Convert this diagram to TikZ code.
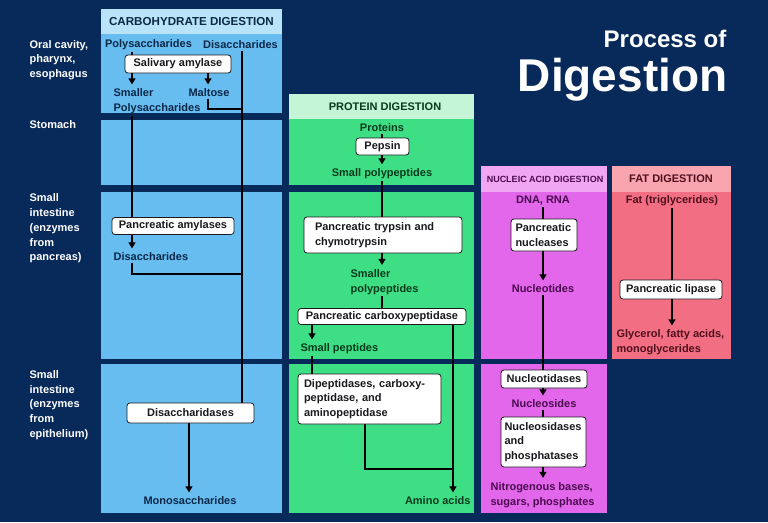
\documentclass[tikz,border=0pt]{standalone}
\usepackage{fontspec}
\setmainfont{Liberation Sans}
\usepackage{tikz}
\usetikzlibrary{arrows.meta}
\usetikzlibrary{positioning}

\definecolor{navy}{RGB}{8,42,90}
\definecolor{carbhead}{RGB}{185,228,248}
\definecolor{carbbody}{RGB}{104,189,240}
\definecolor{carbtext}{RGB}{12,40,72}
\definecolor{prothead}{RGB}{196,245,214}
\definecolor{protbody}{RGB}{62,222,133}
\definecolor{prottext}{RGB}{8,58,30}
\definecolor{nuchead}{RGB}{241,166,244}
\definecolor{nucbody}{RGB}{227,103,234}
\definecolor{nuctext}{RGB}{75,11,80}
\definecolor{fathead}{RGB}{249,165,176}
\definecolor{fatbody}{RGB}{242,111,131}
\definecolor{fattext}{RGB}{80,15,28}
\definecolor{inkdark}{RGB}{25,25,30}

\begin{document}
\begin{tikzpicture}[x=1pt, y=-1pt, line width=1.2pt, >={Triangle[width=7pt,length=6pt]}, font=\fontsize{11}{14.7}\selectfont\bfseries]
\tikzstyle{enzyme} = [draw=inkdark, fill=white, rounded corners=3pt, line width=0.8pt, text=inkdark, inner sep=0pt]
\tikzstyle{stage} = [inner sep=1pt]
\tikzstyle{rowlabel} = [text=white, align=left, anchor=west, inner sep=0pt]
\tikzstyle{flow} = [->, shorten >=3pt]

\fill[navy] (0,0) rectangle (768,522);
\useasboundingbox (0,0) rectangle (768,522);

% panels
\fill[carbhead] (101,9) rectangle (282,34);
\fill[carbbody] (101,34) rectangle (282,113);
\fill[carbbody] (101,120) rectangle (282,185);
\fill[carbbody] (101,192) rectangle (282,359);
\fill[carbbody] (101,364) rectangle (282,513);

\fill[prothead] (289,94) rectangle (474,119);
\fill[protbody] (289,119) rectangle (474,185);
\fill[protbody] (289,192) rectangle (474,359);
\fill[protbody] (289,364) rectangle (474,513);

\fill[nuchead] (481,166) rectangle (607,192);
\fill[nucbody] (481,192) rectangle (607,359);
\fill[nucbody] (481,364) rectangle (607,513);

\fill[fathead] (612,166) rectangle (731,192);
\fill[fatbody] (612,192) rectangle (731,359);

% title and rows
\node[text=white, anchor=east, inner sep=0pt, font=\fontsize{24}{28}\selectfont\bfseries] (title1) at (727,39) {Process of};
\node[text=white, anchor=east, inner sep=0pt, font=\fontsize{46}{50}\selectfont\bfseries] (title2) at (728,80) {Digestion};

\node[rowlabel] (oral) at (29,60) {Oral cavity,\\pharynx,\\esophagus};
\node[rowlabel] (stomach) at (29,125) {Stomach};
\node[rowlabel] (pancreas) at (29,228.5) {Small\\intestine\\(enzymes\\from\\pancreas)};
\node[rowlabel] (epith) at (29,405) {Small\\intestine\\(enzymes\\from\\epithelium)};

% carbohydrate
\node[text=carbtext, font=\fontsize{11.6}{14}\selectfont\bfseries] (hcarb) at (191.5,21.5) {CARBOHYDRATE DIGESTION};
\node[stage, text=carbtext] (poly) at (148.5,45) {Polysaccharides};
\node[stage, text=carbtext] (disac) at (240.5,45) {Disaccharides};
\node[enzyme, minimum width=106pt, minimum height=18pt] (salamy) at (178,64) {Salivary amylase};
\node[stage, text=carbtext, align=left, anchor=west] (smpoly) at (112,101.5) {Smaller\\Polysaccharides};
\node[stage, text=carbtext] (maltose) at (209,93) {Maltose};
\node[enzyme, minimum width=122pt, minimum height=17pt] (pancamy) at (173,226) {Pancreatic amylases};
\node[stage, text=carbtext, anchor=west] (disac2) at (112,257) {Disaccharides};
\node[enzyme, minimum width=127pt, minimum height=20pt] (disase) at (190.5,413) {Disaccharidases};
\node[stage, text=carbtext] (mono) at (190,501) {Monosaccharides};

% protein
\node[text=prottext] (hprot) at (385,106.5) {PROTEIN DIGESTION};
\node[stage, text=prottext] (proteins) at (382,128) {Proteins};
\node[enzyme, minimum width=53pt, minimum height=17pt] (pepsin) at (382.5,146.5) {Pepsin};
\node[stage, text=prottext] (smpolypep) at (382,174) {Small polypeptides};
\node[enzyme, text width=136pt, inner xsep=11pt, minimum height=36pt, align=left] (trypsin) at (383,235) {Pancreatic trypsin and\\chymotrypsin};
\node[stage, text=prottext, align=left, anchor=west] (smpolypep2) at (349,282) {Smaller\\polypeptides};
\node[enzyme, minimum width=168pt, minimum height=16pt] (carboxy) at (382,316.5) {Pancreatic carboxypeptidase};
\node[stage, text=prottext, anchor=west] (smpep) at (299,349) {Small peptides};
\node[enzyme, text width=131pt, inner xsep=6pt, minimum height=50pt, align=left] (dipep) at (369.5,399) {Dipeptidases, carboxy-\\peptidase, and\\aminopeptidase};
\node[stage, text=prottext, anchor=east] (amino) at (472,501) {Amino acids};

% nucleic acid
\node[text=nuctext, font=\fontsize{9}{11}\selectfont\bfseries] (hnuc) at (545,179) {NUCLEIC ACID DIGESTION};
\node[stage, text=nuctext] (dnarna) at (543,201) {DNA, RNA};
\node[enzyme, text width=57pt, inner xsep=4.5pt, minimum height=32pt, align=left] (nucleases) at (544,235) {Pancreatic\\nucleases};
\node[stage, text=nuctext] (nucleotides) at (543,289) {Nucleotides};
\node[enzyme, minimum width=86pt, minimum height=18pt] (nucleotidases) at (544,379) {Nucleotidases};
\node[stage, text=nuctext] (nucleosides) at (544,404) {Nucleosides};
\node[enzyme, text width=78pt, inner xsep=3.5pt, minimum height=50pt, align=left] (nucleosidases) at (543.5,442) {Nucleosidases\\and\\phosphatases};
\node[stage, text=nuctext, align=left, anchor=west] (nitro) at (489,495) {Nitrogenous bases,\\sugars, phosphates};

% fat
\node[text=fattext] (hfat) at (671,179) {FAT DIGESTION};
\node[stage, text=fattext] (fat) at (672,201) {Fat (triglycerides)};
\node[enzyme, minimum width=102pt, minimum height=19pt] (lipase) at (671,289.5) {Pancreatic lipase};
\node[stage, text=fattext, align=left, anchor=west] (glycerol) at (615,342.5) {Glycerol, fatty acids,\\monoglycerides};

% connectors
\coordinate (cpoly) at (132,0);
\coordinate (cmalt) at (208,0);
\coordinate (cdis) at (242,0);
\coordinate (cmono) at (189,0);
\coordinate (mjoin) at (242,109);
\coordinate (djoin) at (242,274);
\coordinate (cprot) at (382,0);
\coordinate (cpep) at (312,0);
\coordinate (cdip) at (365,0);
\coordinate (camino) at (453,0);
\coordinate (ajoin) at (453,469);
\coordinate (cnuc) at (543,0);
\coordinate (cfat) at (672,0);

\path (poly.south -| cpoly) edge (salamy.north -| cpoly)
	(salamy.south -| cpoly) edge[flow] (smpoly.north -| cpoly)
	(salamy.south -| cmalt) edge[flow] (maltose.north -| cmalt)
	(disac.south -| cdis) edge (disase.north -| cdis)
	(smpoly.south -| cpoly) edge (pancamy.north -| cpoly)
	(pancamy.south -| cpoly) edge[flow] (disac2.north -| cpoly)
	(disase.south -| cmono) edge[flow] (mono.north -| cmono)
	;
\draw (maltose.south -| cmalt) |- (mjoin);
\draw (disac2.south -| cpoly) |- (djoin);

\path (proteins.south -| cprot) edge (pepsin.north -| cprot)
	(pepsin.south -| cprot) edge[flow] (smpolypep.north -| cprot)
	(smpolypep.south -| cprot) edge (trypsin.north -| cprot)
	(trypsin.south -| cprot) edge[flow] (smpolypep2.north -| cprot)
	(smpolypep2.south -| cprot) edge (carboxy.north -| cprot)
	(carboxy.south -| cpep) edge[flow] (smpep.north -| cpep)
	(smpep.south -| cpep) edge (dipep.north -| cpep)
	(carboxy.south -| camino) edge[flow] (amino.north -| camino)
	;
\draw (dipep.south -| cdip) |- (ajoin);

\path (dnarna.south -| cnuc) edge (nucleases.north -| cnuc)
	(nucleases.south -| cnuc) edge[flow] (nucleotides.north -| cnuc)
	(nucleotides.south -| cnuc) edge (nucleotidases.north -| cnuc)
	(nucleotidases.south -| cnuc) edge[flow] (nucleosides.north -| cnuc)
	(nucleosides.south -| cnuc) edge (nucleosidases.north -| cnuc)
	(nucleosidases.south -| cnuc) edge[flow] (nitro.north -| cnuc)
	;

\path (fat.south -| cfat) edge (lipase.north -| cfat)
	(lipase.south -| cfat) edge[flow] (glycerol.north -| cfat)
	;

\end{tikzpicture}
\end{document}
